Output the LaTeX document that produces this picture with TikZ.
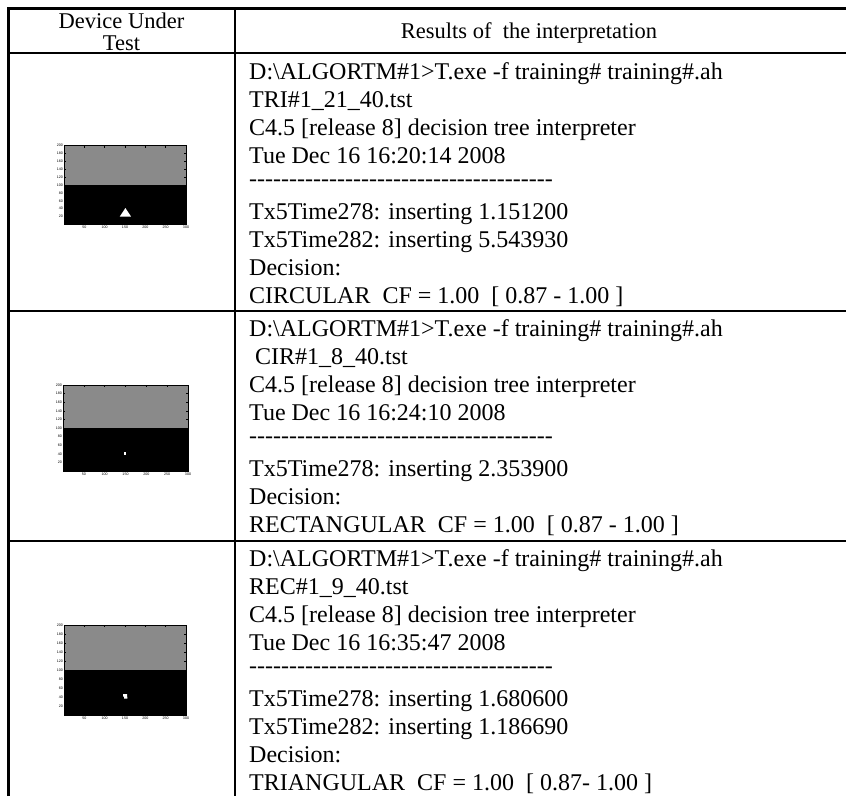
\documentclass[tikz,border=0pt]{standalone}
\usepackage{fontspec}
\newfontfamily\tnr{Liberation Serif}
\newfontfamily\lsans{Liberation Sans}
\definecolor{plotgray}{RGB}{138,138,138}
\tikzset{
  rule/.style={line width=2.2pt, black},
  txt/.style={anchor=base west, inner sep=0pt, font=\tnr\fontsize{24}{27.6}\selectfont},
  hdr/.style={anchor=base, inner sep=0pt, font=\tnr\fontsize{22.5}{22.5}\selectfont},
  ylbl/.style={anchor=east, inner sep=0pt, font=\lsans\fontsize{3.6}{3.6}\selectfont},
  xlbl/.style={anchor=north, inner sep=0pt, font=\lsans\fontsize{3.6}{3.6}\selectfont},
  tick/.style={line width=0.5pt, black},
}
\newcommand\myplot[5]{% #1 name, #2 left, #3 top, #4 right, #5 bottom
  \pgfmathsetmacro\ymid{(#3+#5)/2}
  \fill[plotgray] (#2,#3) rectangle (#4,\ymid);
  \fill[black] (#2,\ymid) rectangle (#4,#5);
  \draw[tick] (#2,#3) rectangle (#4,#5);
  \foreach \k in {1,...,10} {
    \pgfmathsetmacro\yy{#5-\k*(#5-#3)/10}
    \pgfmathtruncatemacro\lab{\k*20}
    \node[ylbl] (#1y\k) at (#2-1,\yy) {\lab};
    \draw[tick] (#2,\yy) -- (#2+2,\yy);
    \draw[tick] (#4,\yy) -- (#4-2,\yy);
  }
  \foreach \k in {1,...,6} {
    \pgfmathsetmacro\xx{#2+\k*(#4-#2)/6}
    \pgfmathtruncatemacro\lab{\k*50}
    \node[xlbl] (#1x\k) at (\xx,#5+1.5) {\lab};
    \draw[tick] (\xx,#3) -- (\xx,#3+2);
    \draw[tick] (\xx,#5) -- (\xx,#5-2);
  }
}
\begin{document}
\begin{tikzpicture}[x=1pt,y=-1pt]
\useasboundingbox (0,0) rectangle (846,796);
\fill[white] (0,0) rectangle (846,796);
% table rules
\draw[rule] (8.5,796) -- (8.5,8.5) -- (846,8.5);
\draw[rule] (235,8.5) -- (235,796);
\draw[rule] (7.4,53) -- (846,53);
\draw[rule] (7.4,311) -- (846,311);
\draw[rule] (7.4,541) -- (846,541);
% header
\node[hdr] (h1a) at (121.5,28.5) {Device Under};
\node[hdr] (h1b) at (121.5,50) {Test};
\node[hdr] (h2) at (529,38.5) {Results of\ \ the interpretation};
% plots
\myplot{pa}{64}{145.5}{186}{224.5}
\fill[white] (125.4,208) -- (131,216.5) -- (119.8,216.5) -- cycle;
\myplot{pb}{63}{385}{188}{471}
\fill[white] (124,452) rectangle (126.2,455.2);
\myplot{pc}{64}{625}{186}{715}
\fill[white] (123,694) -- (127,694) -- (127.4,698.6) -- (124,698.6) -- (124,696.5) -- (123,696.5) -- cycle;
% row 1
\node[txt] (r1a) at (249,79) {D:\textbackslash ALGORTM\#1>T.exe -f training\# training\#.ah};
\node[txt] (r1b) at (249,107) {TRI\#1\_21\_40.tst};
\node[txt] (r1c) at (249,135) {C4.5 [release 8] decision tree interpreter};
\node[txt] (r1d) at (249,163) {Tue Dec 16 16:20:14 2008};
\node[txt] (r1e) at (249,186) {--------------------------------------};
\node[txt] (r1f) at (249,219) {Tx5Time278: inserting 1.151200};
\node[txt] (r1g) at (249,247) {Tx5Time282: inserting 5.543930};
\node[txt] (r1h) at (249,275) {Decision:};
\node[txt] (r1i) at (249,303) {CIRCULAR\ \ CF = 1.00\ \ [ 0.87 - 1.00 ]};
% row 2
\node[txt] (r2a) at (249,336) {D:\textbackslash ALGORTM\#1>T.exe -f training\# training\#.ah};
\node[txt] (r2b) at (249,364) {\ CIR\#1\_8\_40.tst};
\node[txt] (r2c) at (249,392) {C4.5 [release 8] decision tree interpreter};
\node[txt] (r2d) at (249,420) {Tue Dec 16 16:24:10 2008};
\node[txt] (r2e) at (249,443) {--------------------------------------};
\node[txt] (r2f) at (249,476) {Tx5Time278: inserting 2.353900};
\node[txt] (r2g) at (249,504) {Decision:};
\node[txt] (r2h) at (249,532) {RECTANGULAR\ \ CF = 1.00\ \ [ 0.87 - 1.00 ]};
% row 3
\node[txt] (r3a) at (249,566) {D:\textbackslash ALGORTM\#1>T.exe -f training\# training\#.ah};
\node[txt] (r3b) at (249,594) {REC\#1\_9\_40.tst};
\node[txt] (r3c) at (249,622) {C4.5 [release 8] decision tree interpreter};
\node[txt] (r3d) at (249,650) {Tue Dec 16 16:35:47 2008};
\node[txt] (r3e) at (249,673) {--------------------------------------};
\node[txt] (r3f) at (249,706) {Tx5Time278: inserting 1.680600};
\node[txt] (r3g) at (249,734) {Tx5Time282: inserting 1.186690};
\node[txt] (r3h) at (249,762) {Decision:};
\node[txt] (r3i) at (249,790) {TRIANGULAR\ \ CF = 1.00\ \ [ 0.87- 1.00 ]};
\end{tikzpicture}
\end{document}
